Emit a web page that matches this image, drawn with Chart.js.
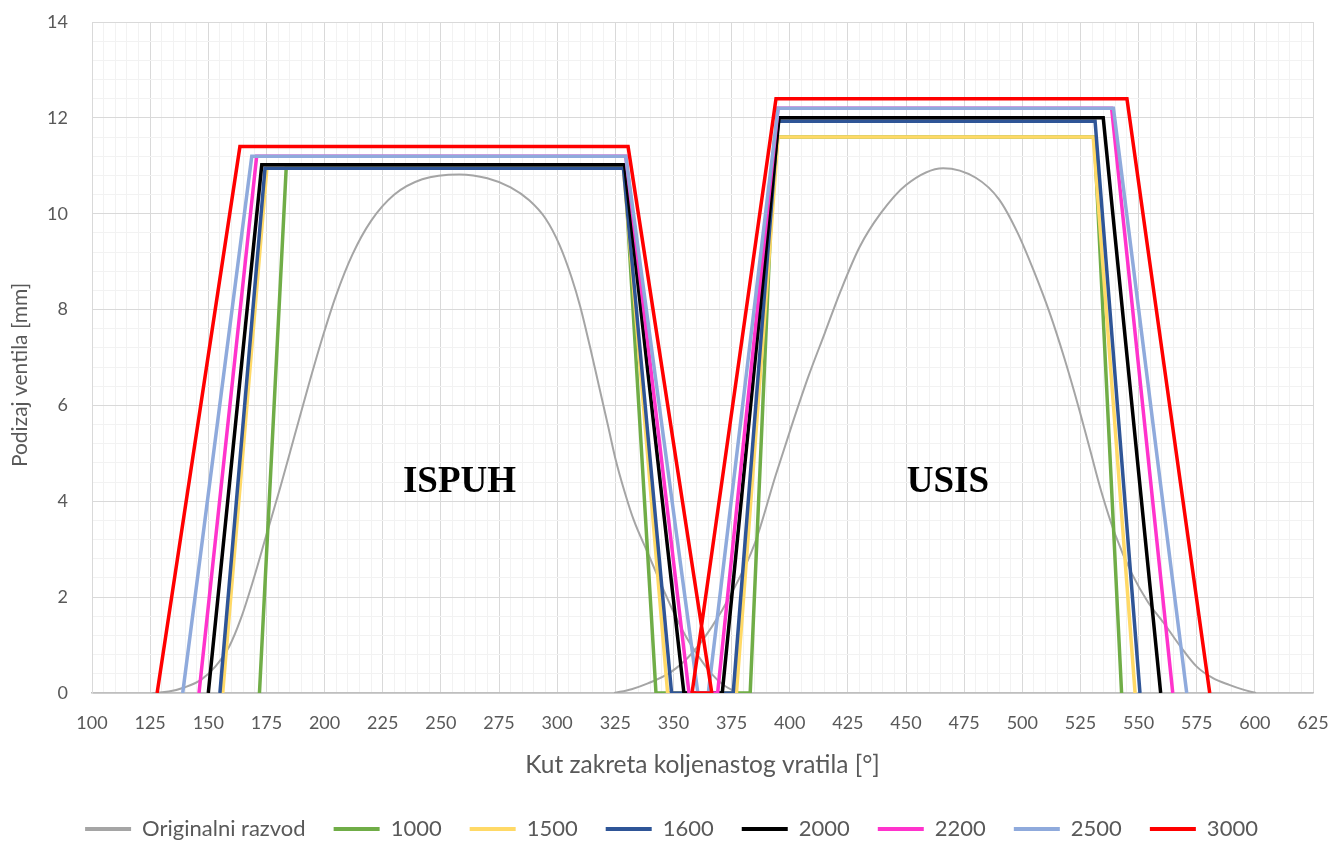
<!DOCTYPE html>
<html>
<head>
<meta charset="utf-8">
<script src="https://cdn.jsdelivr.net/npm/chart.js@4.4.1/dist/chart.umd.min.js"></script>
<style>
  html, body { margin: 0; padding: 0; background: #fff; }
  #okvir { width: 1336px; height: 846px; }
</style>
</head>
<body>
<div id="okvir"><canvas id="podizaj" width="1336" height="846"></canvas></div>
<script>
// Originalni razvod - ispuh i usis (kut [°], podizaj [mm])
const origIspuhKut = [126, 133, 140, 147, 153, 159, 164, 169, 175, 181, 187, 193, 199, 205, 212, 220, 230, 242, 258, 270, 280, 288, 295, 301, 306, 310, 314, 318, 322, 325, 329, 333, 339, 344, 349, 354, 358, 362, 366, 372, 378];
const origIspuhPod = [0, 0.03, 0.12, 0.28, 0.55, 0.97, 1.55, 2.3, 3.3, 4.3, 5.35, 6.4, 7.4, 8.3, 9.15, 9.85, 10.4, 10.72, 10.82, 10.74, 10.55, 10.28, 9.9, 9.35, 8.7, 8.05, 7.25, 6.4, 5.55, 4.9, 4.2, 3.6, 2.92, 2.35, 1.8, 1.3, 0.97, 0.68, 0.42, 0.15, 0];
const origUsisKut = [324.5, 332, 339, 349, 358, 366.5, 375, 385, 394, 401, 408, 415, 422, 430, 439, 450, 466, 480, 490, 498, 505, 512, 518, 524, 529, 534, 540, 547, 554, 561, 568, 575, 582, 589, 595, 600.5];
const origUsisPod = [0, 0.08, 0.2, 0.44, 0.83, 1.38, 2.08, 3.12, 4.55, 5.6, 6.6, 7.5, 8.4, 9.3, 10.0, 10.6, 10.95, 10.75, 10.3, 9.6, 8.8, 7.9, 7.0, 6.0, 5.1, 4.2, 3.3, 2.5, 1.9, 1.45, 0.97, 0.55, 0.31, 0.17, 0.07, 0];

// Novi razvod po brzinama vrtnje
const kut1000 = [172, 183.5, 329, 342.5, 383, 393.5, 531, 542.7];
const pod1000 = [0, 10.95, 10.95, 0, 0, 11.6, 11.6, 0];
const kut1500 = [156.2, 175.2, 328.5, 347.5, 377.1, 395, 530.5, 548.5];
const pod1500 = [0, 10.95, 10.95, 0, 0, 11.6, 11.6, 0];
const kut1600 = [155, 174.4, 328.5, 349.2, 375.7, 395, 531.3, 550.6];
const pod1600 = [0, 10.95, 10.95, 0, 0, 11.93, 11.93, 0];
const kut2000 = [150, 173, 329, 354.5, 371, 395.4, 534.8, 559.5];
const pod2000 = [0, 11.02, 11.02, 0, 0, 12.0, 12.0, 0];
const kut2200 = [146, 170.8, 329.5, 356.7, 369, 395, 538.4, 564.7];
const pod2200 = [0, 11.2, 11.2, 0, 0, 12.2, 12.2, 0];
const kut2500 = [139, 168.7, 329.5, 360.5, 365, 395, 539.2, 570.7];
const pod2500 = [0, 11.2, 11.2, 0, 0, 12.2, 12.2, 0];
const kut3000 = [128, 163.6, 330.5, 366.5, 358, 394.1, 545, 580.6];
const pod3000 = [0, 11.4, 11.4, 0, 0, 12.4, 12.4, 0];

const oznakeX = ['100', '125', '150', '175', '200', '225', '250', '275', '300', '325', '350', '375', '400', '425', '450', '475', '500', '525', '550', '575', '600', '625'];
const oznakeY = ['0', '2', '4', '6', '8', '10', '12', '14'];

function tocke(kut, pod) {
    return kut.map((k, i) => ({ x: k, y: pod[i] }));
}

const serije = [
    { label: 'Originalni razvod', data: tocke(origIspuhKut, origIspuhPod), boja: '#a5a5a5', debljina: 2, glatko: true },
    { label: 'Originalni razvod', data: tocke(origUsisKut, origUsisPod), boja: '#a5a5a5', debljina: 2, glatko: true, skriveno: true },
    { label: '1000', data: tocke(kut1000, pod1000), boja: '#70ad47', debljina: 3.5 },
    { label: '1500', data: tocke(kut1500, pod1500), boja: '#ffd966', debljina: 3.5 },
    { label: '1600', data: tocke(kut1600, pod1600), boja: '#2f5597', debljina: 3.5 },
    { label: '2000', data: tocke(kut2000, pod2000), boja: '#000000', debljina: 3.5 },
    { label: '2200', data: tocke(kut2200, pod2200), boja: '#ff33cc', debljina: 3.5 },
    { label: '2500', data: tocke(kut2500, pod2500), boja: '#8faadc', debljina: 3.5 },
    { label: '3000', data: tocke(kut3000, pod3000), boja: '#ff0000', debljina: 3.5 }
];

const font = 'Lato';
const sivaTekst = '#595959';

// natpisi ISPUH / USIS i naslov osi y
const natpisi = {
    id: 'natpisi',
    afterDatasetsDraw(chart) {
        const { ctx, scales } = chart;
        ctx.save();
        ctx.font = 'bold 37px "Liberation Serif", "Times New Roman", serif';
        ctx.fillStyle = '#000';
        ctx.textAlign = 'center';
        ctx.textBaseline = 'middle';
        ctx.fillText('ISPUH', scales.x.getPixelForValue(258), scales.y.getPixelForValue(4.4));
        ctx.fillText('USIS', scales.x.getPixelForValue(468), scales.y.getPixelForValue(4.4));
        ctx.restore();
    },
    afterDraw(chart) {
        const { ctx } = chart;
        ctx.save();
        ctx.translate(20, 375);
        ctx.rotate(-Math.PI / 2);
        ctx.font = '21px ' + font;
        ctx.fillStyle = sivaTekst;
        ctx.textAlign = 'center';
        ctx.textBaseline = 'middle';
        ctx.fillText('Podizaj ventila [mm]', 0, 0);
        ctx.restore();
    }
};

const ctx = document.getElementById('podizaj').getContext('2d');
const graf = new Chart(ctx, {
    type: 'scatter',
    data: {
        datasets: serije.map((s, i) => ({
            label: s.label,
            data: s.data,
            showLine: true,
            borderColor: s.boja,
            backgroundColor: s.boja,
            borderWidth: s.debljina,
            pointRadius: 0,
            cubicInterpolationMode: s.glatko ? 'monotone' : 'default',
            tension: s.glatko ? 0.4 : 0,
            skriveno: !!s.skriveno,
            order: serije.length - i
        }))
    },
    options: {
        responsive: false,
        animation: false,
        devicePixelRatio: 1,
        layout: { padding: { left: 30, right: 23, top: 22, bottom: 0 } },
        plugins: {
            tooltip: { enabled: false },
            legend: {
                position: 'bottom',
                maxHeight: 56,
                labels: {
                    boxWidth: 46,
                    boxHeight: 4,
                    padding: 28,
                    color: sivaTekst,
                    font: { family: font, size: 22 },
                    sort: (a, b) => a.datasetIndex - b.datasetIndex,
                    filter: (item, data) => !data.datasets[item.datasetIndex].skriveno,
                    generateLabels(chart) {
                        const stavke = Chart.defaults.plugins.legend.labels.generateLabels(chart);
                        stavke.forEach(s => { s.lineWidth = 0; s.fillStyle = s.strokeStyle; });
                        return stavke;
                    }
                }
            }
        },
        scales: {
            x: {
                type: 'linear',
                min: 100,
                max: 625,
                afterFit: s => { s.height = 97; s.paddingLeft = 0; s.paddingRight = 0; },
                border: { color: '#bfbfbf', width: 1.5 },
                grid: {
                    drawTicks: false,
                    color: c => (c.tick && c.tick.value % 25 === 0) ? '#d9d9d9' : '#f2f2f2'
                },
                ticks: {
                    stepSize: 5,
                    maxTicksLimit: 1000,
                    autoSkip: false,
                    maxRotation: 0,
                    padding: 19,
                    color: sivaTekst,
                    font: { family: font, size: 18 },
                    callback: v => oznakeX.includes(String(v)) ? String(v) : ''
                },
                title: {
                    display: true,
                    text: 'Kut zakreta koljenastog vratila [°]',
                    color: sivaTekst,
                    font: { family: font, size: 24.5 },
                    padding: { top: 0, bottom: 10 }
                }
            },
            y: {
                type: 'linear',
                min: 0,
                max: 14,
                afterFit: s => { s.width = 62; s.paddingTop = 0; s.paddingBottom = 0; },
                border: { color: '#d9d9d9', width: 1 },
                grid: {
                    drawTicks: false,
                    color: c => {
                        const v = c.tick ? c.tick.value : 0;
                        return Math.abs(v / 2 - Math.round(v / 2)) < 1e-6 ? '#d9d9d9' : '#f2f2f2';
                    }
                },
                ticks: {
                    stepSize: 0.4,
                    maxTicksLimit: 1000,
                    autoSkip: false,
                    padding: 24,
                    color: sivaTekst,
                    font: { family: font, size: 18 },
                    callback: v => {
                        const t = String(Math.round(v * 10) / 10);
                        return oznakeY.includes(t) ? t : '';
                    }
                },
                title: { display: false }
            }
        }
    },
    plugins: [natpisi]
});
</script>
</body>
</html>
